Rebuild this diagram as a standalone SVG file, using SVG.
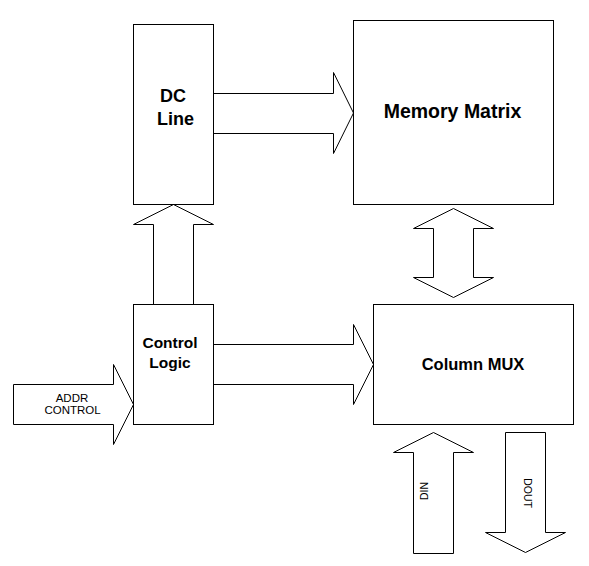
<svg xmlns="http://www.w3.org/2000/svg" width="589" height="566" viewBox="0 0 589 566">
<style>
.box{fill:#fff;stroke:#000;stroke-width:1}
.arr{fill:#fff;stroke:#000;stroke-width:1;stroke-linejoin:miter}
.b{font-family:"Liberation Sans",Arial,sans-serif;font-weight:bold;fill:#000;text-anchor:middle}
.r{font-family:"Liberation Sans",Arial,sans-serif;fill:#000;text-anchor:middle}
</style>
<rect width="589" height="566" fill="#fff"/>
<g id="connectors">
<path class="arr" d="M213.5,93.5 H333.5 V72.5 L353.5,113 L333.5,153.5 V133.5 H213.5"/>
<path class="arr" d="M153.5,304.5 V224.5 H133.5 L173.5,204.5 L213.5,224.5 H193.5 V304.5"/>
<path class="arr" d="M453.5,208.5 L493.5,228.5 H473.5 V277.5 H493.5 L453.5,297.5 L413.5,277.5 H433.5 V228.5 H413.5 Z"/>
<path class="arr" d="M213.5,344.5 H353.5 V324.5 L373.5,364.5 L353.5,404.5 V384.5 H213.5"/>
<path class="arr" d="M133.5,404.5 L113.5,364.5 V384.5 H13.5 V424.5 H113.5 V444.5 Z"/>
<path class="arr" d="M433.5,432.5 L473.5,452.5 H453.5 V553.5 H413.5 V452.5 H393.5 Z"/>
<path class="arr" d="M505.5,432.5 H545.5 V532.5 H565.5 L525.5,552.5 L485.5,532.5 H505.5 Z"/>
</g>
<g id="dc-line">
<rect class="box" x="133.5" y="24.5" width="80" height="180"/>
<text class="b" x="173" y="102" font-size="18">DC</text>
<text class="b" x="175.5" y="125" font-size="18">Line</text>
</g>
<g id="memory-matrix">
<rect class="box" x="353.5" y="20.5" width="200" height="184"/>
<text class="b" x="452.5" y="118" font-size="19.5">Memory Matrix</text>
</g>
<g id="control-logic">
<rect class="box" x="133.5" y="304.5" width="80" height="120"/>
<text class="b" x="170" y="348" font-size="15.5">Control</text>
<text class="b" x="170" y="368" font-size="15.5">Logic</text>
</g>
<g id="column-mux">
<rect class="box" x="373.5" y="304.5" width="200" height="120"/>
<text class="b" x="473" y="370" font-size="16.5">Column MUX</text>
</g>
<g id="addr-control">
<text class="r" x="72" y="401.5" font-size="11.5">ADDR</text>
<text class="r" x="72.5" y="413.5" font-size="11.5">CONTROL</text>
</g>
<g id="din">
<text class="r" font-size="10.5" transform="translate(427.5,491) rotate(-90)">DIN</text>
</g>
<g id="dout">
<text class="r" font-size="10.5" transform="translate(523.5,493) rotate(90)">DOUT</text>
</g>
</svg>
